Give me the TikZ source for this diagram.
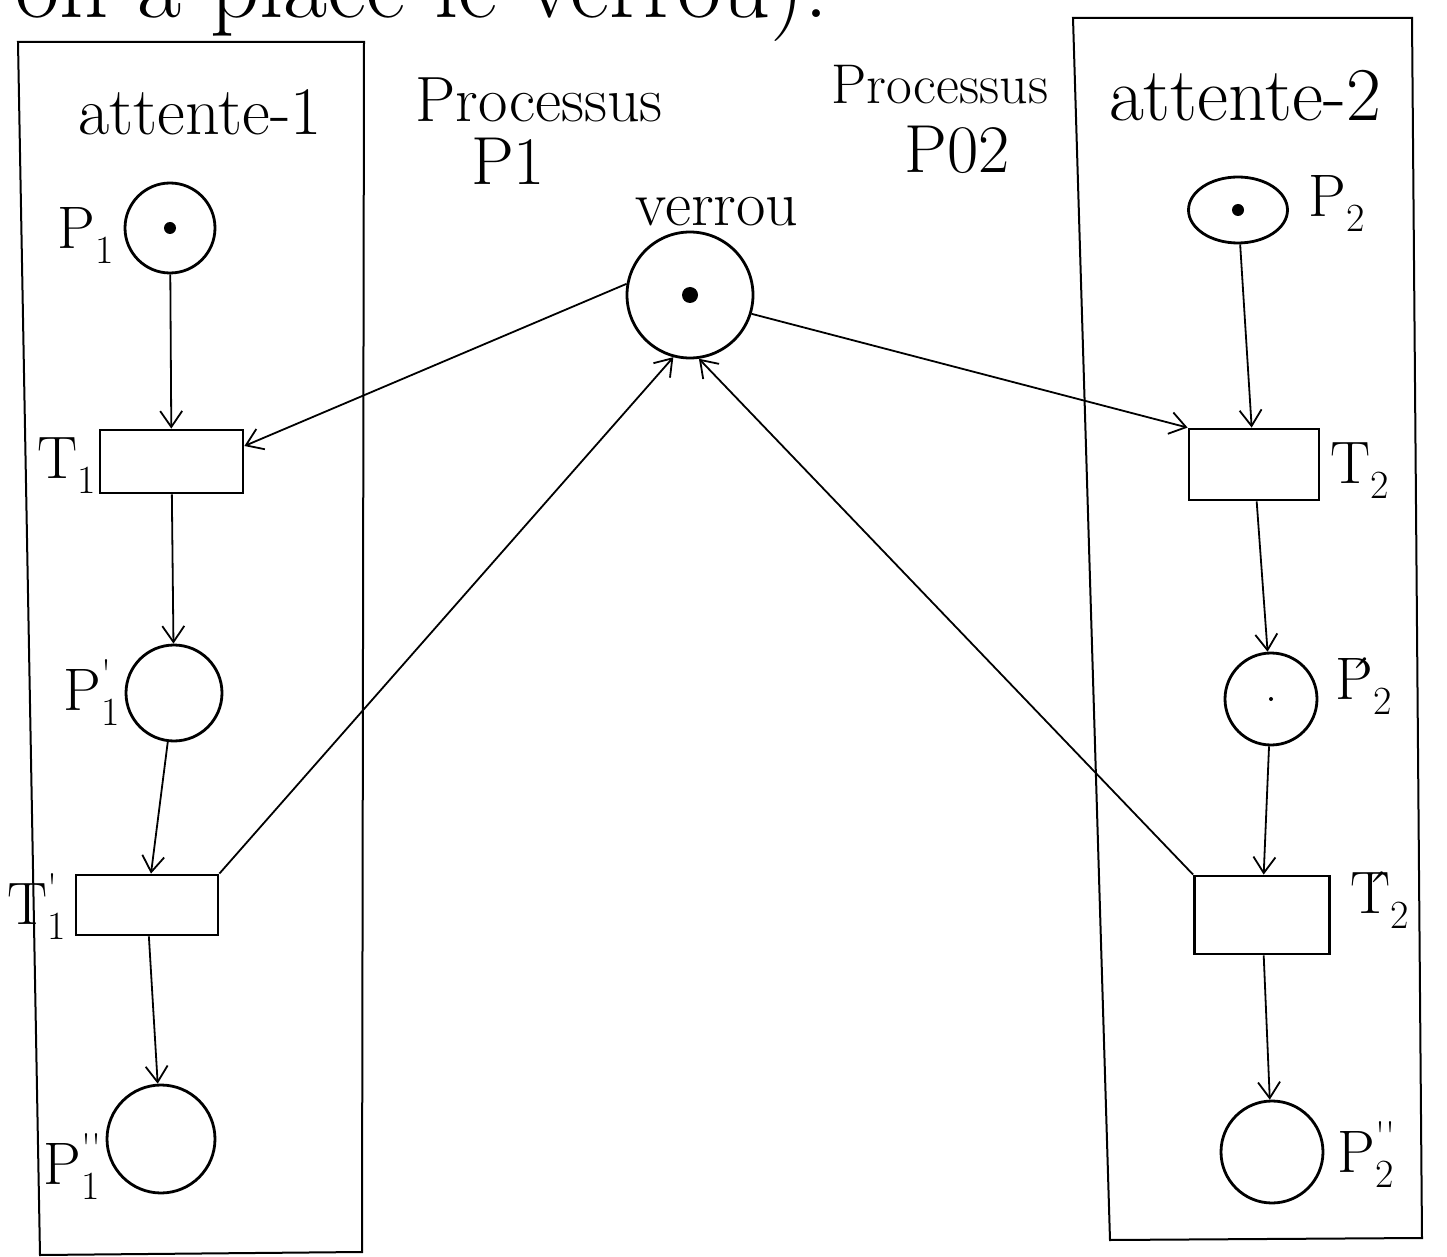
\documentclass[tikz,border=0pt]{standalone}
\usetikzlibrary{arrows.meta,shapes.geometric}
% letter with its primes stacked over its index
\newcommand{\plbl}[3]{#1\raisebox{-0.25em}{\fontsize{20}{19}\selectfont\begin{tabular}[b]{@{}l@{}}#3\\#2\end{tabular}}}
\begin{document}
\begin{tikzpicture}[x=0.5pt,y=-0.5pt,
  place/.style={circle,draw,line width=1.4pt,inner sep=0pt},
  oval/.style={ellipse,draw,line width=1.4pt,inner sep=0pt},
  trans/.style={rectangle,draw,line width=1.4pt,inner sep=0pt},
  arc/.style={line width=0.9pt,-{Straight Barb[length=8pt,width=11pt,line width=0.9pt]}},
  frame/.style={line width=1pt},
  lbl/.style={inner sep=0pt,font=\fontsize{30}{36}\selectfont},
  hand/.style={inner sep=0pt,font=\fontsize{34}{40}\selectfont}]

\useasboundingbox (0,0) rectangle (1447,1257);
\clip (0,0) rectangle (1447,1257);

% note running off the top edge
\node[anchor=base west,inner sep=0pt,font=\fontsize{48}{56}\selectfont] (topnote) at (15,18) {on a plac\'e le verrou).};

% the two waiting zones
\draw[frame] (18,42) -- (364,42) -- (362,1252) -- (40,1255) -- cycle;
\draw[frame] (1073,18) -- (1412,18) -- (1422,1238) -- (1110,1240) -- cycle;

% headings
\node[hand] (att1) at (200,112) {attente-1};
\node[hand,font=\fontsize{38}{44}\selectfont] (att2) at (1245,96) {attente-2};
\node[hand,font=\fontsize{32}{38}\selectfont] (proc1) at (539,100) {Processus};
\node[hand] (proc1b) at (508,161) {P1};
\node[hand,font=\fontsize{28}{34}\selectfont] (proc2) at (940,85) {Processus};
\node[hand] (proc2b) at (957,150) {P02};
\node[hand,font=\fontsize{32}{38}\selectfont] (verlbl) at (717,212) {verrou};

% places
\node[place,minimum size=45pt] (P1) at (170,228) {};
\node[place,minimum size=63pt] (verrou) at (690,295) {};
\node[oval,minimum width=49.5pt,minimum height=33pt] (P2) at (1238,210) {};
\node[place,minimum size=48pt] (P1p) at (174,693) {};
\node[place,minimum size=54pt] (P1pp) at (161,1139) {};
\node[place,minimum size=46pt] (P2p) at (1271,699) {};
\node[place,minimum size=51pt] (P2pp) at (1272,1152) {};

% tokens
\fill (P1.center) circle (3pt);
\fill (verrou.center) circle (4pt);
\fill (P2.center) circle (3pt);
\fill (P2p.center) circle (1pt);

% transitions
\node[trans,minimum width=71.5pt,minimum height=31.5pt] (T1) at (171.5,461.5) {};
\node[trans,minimum width=71pt,minimum height=30pt] (T1p) at (147,905) {};
\node[trans,minimum width=65pt,minimum height=35.5pt] (T2) at (1254,464.5) {};
\node[trans,minimum width=67.5pt,minimum height=39pt] (T2p) at (1262,915) {};

% labels
\node[lbl,anchor=east] (lP1) at (114,237) {\plbl{P}{1}{}};
\node[lbl,anchor=east] (lT1) at (96,467) {\plbl{T}{1}{}};
\node[lbl,anchor=east] (lP1p) at (120,698) {\plbl{P}{1}{\textquotesingle}};
\node[lbl,anchor=east] (lT1p) at (66,912) {\plbl{T}{1}{\textquotesingle}};
\node[lbl,anchor=east] (lP1pp) at (102,1172) {\plbl{P}{1}{\textquotesingle\textquotesingle}};
\node[lbl,anchor=west] (lP2) at (1308,205) {\plbl{P}{2}{}};
\node[lbl,anchor=west] (lT2) at (1330,472) {\plbl{T}{2}{}};
\node[lbl,anchor=west] (lP2p) at (1335,688) {\plbl{\'P}{2}{}};
\node[lbl,anchor=west] (lT2p) at (1350,902) {\plbl{\'T}{2}{}};
\node[lbl,anchor=west] (lP2pp) at (1337,1160) {\plbl{P}{2}{\textquotesingle\textquotesingle}};

% arcs of process 1
\draw[arc] (P1) -- (T1);
\draw[arc] (verrou.170) -- (T1.12);
\draw[arc] (T1) -- (P1p);
\draw[arc] (P1p) -- (T1p);
\draw[arc] (T1p.north east) -- (verrou.255);
\draw[arc] (T1p) -- (P1pp);

% arcs of process 2
\draw[arc] (verrou.-17) -- (T2.north west);
\draw[arc] (P2) -- (T2);
\draw[arc] (T2) -- (P2p);
\draw[arc] (P2p) -- (T2p);
\draw[arc] (T2p.north west) -- (verrou.278);
\draw[arc] (T2p) -- (P2pp);
\end{tikzpicture}
\end{document}
